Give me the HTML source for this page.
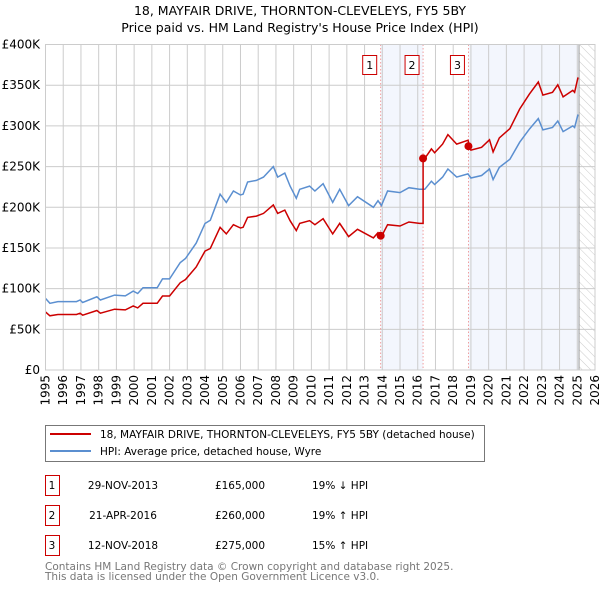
<!DOCTYPE html>
<html><head><meta charset="utf-8"><style>
body{margin:0;background:#fff;}
svg{display:block;font-family:"DejaVu Sans","Liberation Sans",sans-serif;}
</style></head><body>
<svg id="chart" width="600" height="590" viewBox="0 0 600 590" xmlns="http://www.w3.org/2000/svg">
<defs><pattern id="hatch" width="6" height="6" patternUnits="userSpaceOnUse" patternTransform="rotate(-45)"><line x1="0" y1="0" x2="0" y2="6" stroke="#ccc" stroke-width="1"/></pattern></defs>
<text x="300" y="15" text-anchor="middle" font-size="12.5">18, MAYFAIR DRIVE, THORNTON-CLEVELEYS, FY5 5BY</text>
<text x="300" y="32" text-anchor="middle" font-size="12.5">Price paid vs. HM Land Registry's House Price Index (HPI)</text>
<g id="plot"></g>
<rect x="45.5" y="425.5" width="439" height="36" fill="#fff" stroke="#777"/>
<line x1="50" y1="434" x2="91" y2="434" stroke="#cc0000" stroke-width="2"/>
<text x="100" y="438" font-size="10.5">18, MAYFAIR DRIVE, THORNTON-CLEVELEYS, FY5 5BY (detached house)</text>
<line x1="50" y1="451" x2="91" y2="451" stroke="#5b8fd0" stroke-width="2"/>
<text x="100" y="455" font-size="10.5">HPI: Average price, detached house, Wyre</text>
<g id="table" font-size="10.5"></g>
<text x="45" y="570" font-size="10.5" fill="#777">Contains HM Land Registry data © Crown copyright and database right 2025.</text>
<text x="45" y="580" font-size="10.5" fill="#777">This data is licensed under the Open Government Licence v3.0.</text>
</svg>
<script>
const hpiYears=[1995.0,1995.25,1995.7,1996.75,1996.95,1997.1,1997.9,1998.1,1998.9,1999.5,1999.95,2000.2,2000.5,2001.3,2001.6,2002.0,2002.6,2002.9,2003.5,2004.0,2004.3,2004.85,2005.2,2005.6,2006.0,2006.15,2006.4,2006.9,2007.3,2007.85,2008.1,2008.5,2008.8,2009.15,2009.34,2009.9,2010.2,2010.66,2011.2,2011.6,2012.1,2012.6,2013.5,2013.76,2013.95,2014.3,2015.0,2015.5,2016.1,2016.4,2016.77,2016.95,2017.4,2017.7,2018.2,2018.83,2019.0,2019.6,2020.05,2020.25,2020.6,2021.2,2021.75,2022.3,2022.8,2023.06,2023.6,2023.9,2024.2,2024.75,2024.85,2025.04];
const hpiValues=[88,82,84,84,86,83,90,86,92,91,97,94,101,101,112,112,132,137,156,180,184,216,206,220,215,216,231,233,237,250,237,242,226,211,222,226,220,229,206,222,202,213,200,208,202,220,218,224,222,222,232,228,237,247,237,241,236,239,247,234,249,259,280,296,309,295,298,306,293,300,298,314];
const saleYears=[2013.91,2016.3,2018.86];
const salePrices=[165,260,275];
const saleLabels=["1","2","3"];
const saleDates=["29-NOV-2013","21-APR-2016","12-NOV-2018"];
const salePriceText=["£165,000","£260,000","£275,000"];
const saleHpiText=["19% ↓ HPI","19% ↑ HPI","15% ↑ HPI"];
const yTicks=[0,50,100,150,200,250,300,350,400];
const yTickLabels=["£0","£50K","£100K","£150K","£200K","£250K","£300K","£350K","£400K"];
const xTicks=[1995,1996,1997,1998,1999,2000,2001,2002,2003,2004,2005,2006,2007,2008,2009,2010,2011,2012,2013,2014,2015,2016,2017,2018,2019,2020,2021,2022,2023,2024,2025,2026];
const dataEnd=2025.1;

const NS="http://www.w3.org/2000/svg";
const X0=45.5,X1=595,Y0=370,Y1=44.5;
const xs=y=>X0+(y-1995)/(2026-1995)*(X1-X0);
const ys=v=>Y0-v/400*(Y0-Y1);
const plot=document.getElementById('plot');
function mk(tag,attrs,parent){const e=document.createElementNS(NS,tag);for(const k in attrs)e.setAttribute(k,attrs[k]);(parent||plot).appendChild(e);return e;}
function hpiAt(t){for(let i=1;i<hpiYears.length;i++){if(t<=hpiYears[i]){const f=(t-hpiYears[i-1])/(hpiYears[i]-hpiYears[i-1]);return hpiValues[i-1]+f*(hpiValues[i]-hpiValues[i-1]);}}return hpiValues[hpiValues.length-1];}

let r=mk('rect',{x:xs(saleYears[0]),y:Y1,width:xs(saleYears[1])-xs(saleYears[0]),height:Y0-Y1,fill:'#f3f6fd'});


r=mk('rect',{x:xs(saleYears[2]),y:Y1,width:xs(dataEnd)-xs(saleYears[2]),height:Y0-Y1,fill:'#f3f6fd'});


r=mk('rect',{x:xs(dataEnd),y:Y1,width:X1-xs(dataEnd),height:Y0-Y1,fill:'url(#hatch)'});



yTicks.forEach((v,i)=>{
  const l=mk('line',{x1:X0,x2:X1,y1:ys(v),y2:ys(v),stroke:'#ccc','stroke-width':1});
  
  
  const t=mk('text',{x:40,y:ys(v)+4,'text-anchor':'end','font-size':'12'});
  
  
  t.textContent=yTickLabels[i];
});
xTicks.forEach(y=>{
  const l=mk('line',{x1:xs(y),x2:xs(y),y1:Y1,y2:Y0,stroke:'#ccc','stroke-width':1});
  
  
  const t=mk('text',{x:0,y:0,'text-anchor':'end','font-size':'12',transform:`translate(${xs(y)+4},375) rotate(-90)`});
  
  
  t.textContent=y;
});
let ed=mk('line',{x1:xs(dataEnd),x2:xs(dataEnd),y1:Y1,y2:Y0,stroke:'#999','stroke-width':1});



saleYears.forEach((s,i)=>{
  const l=mk('line',{x1:xs(s),x2:xs(s),y1:Y1,y2:Y0,stroke:'#e88','stroke-width':0.8,'stroke-dasharray':'1.5,2'});
  
  
  const b=mk('rect',{x:xs(s)-18,y:55.5,width:14,height:19,fill:'#fff',stroke:'#cc0000'});
  
  
  const t=mk('text',{x:xs(s)-11,y:69,'text-anchor':'middle','font-size':'11'});
  
  
  t.textContent=saleLabels[i];
});

let pts=hpiYears.map((y,i)=>xs(y).toFixed(1)+','+ys(hpiValues[i]).toFixed(1)).join(' ');
let hl=mk('polyline',{points:pts,fill:'none',stroke:'#5b8fd0','stroke-width':1.5});



const ratios=saleYears.map((s,i)=>salePrices[i]/hpiAt(s));
let rp=[];let k=0;
hpiYears.forEach((y,i)=>{
  while(k<saleYears.length-1&&y>=saleYears[k+1]){
    rp.push([saleYears[k+1],hpiAt(saleYears[k+1])*ratios[k]]);
    rp.push([saleYears[k+1],salePrices[k+1]]);k++;}
  rp.push([y,hpiValues[i]*ratios[k]]);
});
let pl=mk('polyline',{points:rp.map(p=>xs(p[0]).toFixed(1)+','+ys(p[1]).toFixed(1)).join(' '),fill:'none',stroke:'#cc0000','stroke-width':1.5});


saleYears.forEach((s,i)=>{
  const c=mk('circle',{cx:xs(s),cy:ys(salePrices[i]),r:4,fill:'#cc0000'});
  
  
});
let ax=mk('rect',{x:X0,y:Y1,width:X1-X0,height:Y0-Y1,fill:'none',stroke:'#ccc'});



const tb=document.getElementById('table');
saleYears.forEach((s,i)=>{
  const y0=475+i*30;
  const b=mk('rect',{x:45.5,y:y0+0.5,width:14,height:20,fill:'none',stroke:'#cc0000'},tb);
  
  
  const cells=[[52,saleLabels[i],'middle','table-sale-number'],[123,saleDates[i],'middle','table-sale-date'],[240,salePriceText[i],'middle','table-sale-price'],[312,saleHpiText[i],'start','table-sale-hpi-diff']];
  cells.forEach(c=>{
    const t=mk('text',{x:c[0],y:y0+14,'text-anchor':c[2]},tb);
    
    
    t.textContent=c[1];
  });
});
</script>
</body></html>
